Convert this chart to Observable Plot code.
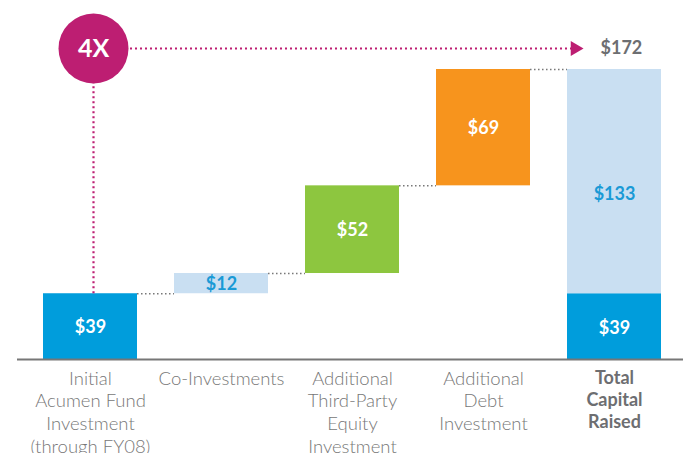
<!DOCTYPE html>
<html>
<head>
<meta charset="utf-8">
<script src="https://cdn.jsdelivr.net/npm/d3@7"></script>
<script src="https://cdn.jsdelivr.net/npm/@observablehq/plot@0.6"></script>
<style>
  html, body { margin: 0; padding: 0; background: #fff; }
  #chart svg { display: block; }
</style>
</head>
<body>
<div id="chart"></div>
<script>
// ---- data ----
const categoryKeys = ["initial", "co", "equity", "debt", "total"];
const categoryLabels = [
  "Initial\nAcumen Fund\nInvestment\n(through FY08)",
  "Co-Investments",
  "Additional\nThird-Party\nEquity\nInvestment",
  "Additional\nDebt\nInvestment",
  "Total\nCapital\nRaised"
];
const stepValues = [39, 12, 52, 69];
const stepColors = ["#009ddc", "#c9dff2", "#8dc63f", "#f7941d"];
const stepLabelColors = ["#ffffff", "#1a9ad6", "#ffffff", "#ffffff"];
const totalSegments = [39, 133];
const totalColors = ["#009ddc", "#c9dff2"];
const totalLabelColors = ["#ffffff", "#1a9ad6"];
const totalValue = 172;
const multipleLabel = "4X";

// ---- derived tables ----
let cum = 0;
const steps = stepValues.map((v, i) => {
  const y1 = cum; cum += v;
  return {cat: categoryKeys[i], y1, y2: cum, label: "$" + v, color: stepColors[i], labelColor: stepLabelColors[i]};
});
let tc = 0;
const totals = totalSegments.map((v, i) => {
  const y1 = tc; tc += v;
  return {cat: categoryKeys[4], y1, y2: tc, label: "$" + v, color: totalColors[i], labelColor: totalLabelColors[i]};
});
const connectors = steps.map((s, i) => ({from: s.cat, to: categoryKeys[i + 1], level: s.y2}));
const catRows = categoryKeys.map((k, i) => ({cat: k, label: categoryLabels[i]}));

const xOpts = {type: "band", domain: categoryKeys, range: [42, 662], paddingInner: 0.285, paddingOuter: 0};
const bw = Plot.scale({x: xOpts}).bandwidth;

const magenta = "#bd1e72";
const gray = "#777777";
const font = "Lato, 'Open Sans', sans-serif";

const chart = Plot.plot({
  width: 688,
  height: 453,
  marginLeft: 42,
  marginRight: 26,
  marginTop: 69,
  marginBottom: 94,
  style: {fontFamily: font, background: "#fff", overflow: "visible"},
  x: {...xOpts, axis: null},
  y: {domain: [0, totalValue], range: [359, 69], axis: null},
  marks: [
    // connectors
    Plot.ruleY(connectors, {
      y: "level", x1: "from", x2: "to",
      insetLeft: bw, insetRight: bw,
      stroke: gray, strokeWidth: 1.5, strokeDasharray: "1.5,2.5"
    }),
    // bars
    Plot.rectY(steps, {x: "cat", y1: "y1", y2: "y2", fill: "color"}),
    Plot.rectY(totals, {x: "cat", y1: "y1", y2: "y2", fill: "color"}),
    // baseline
    Plot.ruleY([0], {stroke: gray, strokeWidth: 2.2, insetLeft: -25, insetRight: -21}),
    // value labels
    Plot.text(steps, {
      x: "cat", y: d => (d.y1 + d.y2) / 2, text: "label", fill: "labelColor",
      fontSize: 18, fontWeight: "bold", dy: 1
    }),
    Plot.text(totals.slice(0, 1), {
      x: "cat", y: d => (d.y1 + d.y2) / 2, text: "label", fill: "labelColor",
      fontSize: 18, fontWeight: "bold", dy: 2
    }),
    Plot.text(totals.slice(1), {
      x: "cat", y: d => (d.y1 + d.y2) / 2, text: "label", fill: "labelColor",
      fontSize: 18, fontWeight: "bold", dy: 13
    }),
    // magenta annotation
    Plot.ruleX([categoryKeys[0]], {
      x: d => d, y1: () => stepValues[0], y2: () => totalValue, dx: 3,
      stroke: magenta, strokeWidth: 2.2, strokeDasharray: "2,3"
    }),
    Plot.ruleY([totalValue], {
      x1: () => categoryKeys[0], x2: () => categoryKeys[4], dy: -21,
      insetLeft: bw / 2 + 40, insetRight: 90,
      stroke: magenta, strokeWidth: 2.2, strokeDasharray: "2,3"
    }),
    Plot.dot([totalValue], {
      x: () => categoryKeys[4], y: d => d, dy: -21, dx: -39.5,
      symbol: "triangle", r: 5.5, rotate: 90, fill: magenta, stroke: null
    }),
    Plot.dot([totalValue], {
      x: () => categoryKeys[0], y: d => d, dy: -21, dx: 3,
      r: 35, fill: magenta, stroke: null
    }),
    Plot.text([multipleLabel], {
      x: () => categoryKeys[0], y: () => totalValue, dy: -21, dx: 3,
      text: d => d, fill: "#fff", fontSize: 25, fontWeight: "bold"
    }),
    Plot.text([totalValue], {
      x: () => categoryKeys[4], y: d => d, dy: -21, dx: -14,
      text: d => "$" + d, textAnchor: "start", fill: "#6d6e71", fontSize: 18, fontWeight: "bold"
    }),
    // category labels
    Plot.text(catRows.slice(0, 4), {
      x: "cat", y: () => 0, text: "label", lineAnchor: "top", dy: 9, lineHeight: 1.23,
      fill: gray, fontSize: 18.5, fontWeight: 300
    }),
    Plot.text(catRows.slice(4), {
      x: "cat", y: () => 0, text: "label", lineAnchor: "top", dy: 9, lineHeight: 1.23,
      fill: "#6d6e71", fontSize: 18, fontWeight: "bold"
    })
  ]
});
document.getElementById("chart").appendChild(chart);
</script>
</body>
</html>
